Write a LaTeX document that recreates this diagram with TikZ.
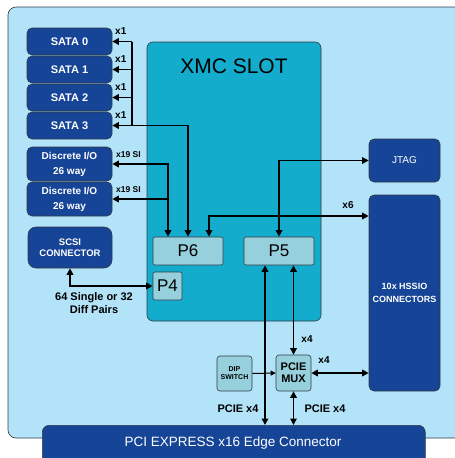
\documentclass[tikz,border=0pt]{standalone}
\usepackage{fontspec}
\setmainfont{Liberation Sans}
\usetikzlibrary{arrows.meta}
\definecolor{board}{RGB}{178,227,248}
\definecolor{slot}{RGB}{20,172,204}
\definecolor{darkblue}{RGB}{22,68,150}
\definecolor{pbox}{RGB}{150,208,220}
\definecolor{edgeline}{RGB}{50,60,70}
\begin{document}
\begin{tikzpicture}[x=1pt,y=-1pt,
  darkbox/.style={draw=edgeline, line width=0.6pt, fill=darkblue, rounded corners=5pt, text=white, inner sep=0pt, align=center},
  pconn/.style={draw=edgeline, line width=0.6pt, fill=pbox, rounded corners=2pt, inner sep=0pt, align=center},
  link/.style={line width=1.9pt, draw=black},
  thin link/.style={line width=1pt, draw=black},
  tipA/.tip={Triangle[length=6.5pt,width=6.5pt]},
  tipB/.tip={Triangle[length=5pt,width=5pt]},
  lbl/.style={inner sep=0pt, font=\bfseries\fontsize{10}{12}\selectfont},
]
\useasboundingbox (0,0) rectangle (455,458);
% board
\draw[fill=board, draw=edgeline, line width=0.6pt, rounded corners=8pt] (8,7) rectangle (470,438);
% XMC slot
\draw[fill=slot, draw=edgeline, line width=0.6pt, rounded corners=6pt] (147,42) rectangle (321,321);
\node[font=\fontsize{21}{24}\selectfont] (xmc) at (234,66) {XMC SLOT};
% edge connector
\node[darkbox, rounded corners=7pt, minimum width=383pt, minimum height=50pt, anchor=north west] (edge) at (42,425) {};
\node[text=white, font=\fontsize{13.5}{15}\selectfont] (edgetxt) at (233,443) {PCI EXPRESS x16 Edge Connector};

% SATA boxes
\foreach \n/\y in {0/41.5,1/69.5,2/97.5,3/125.5}{
  \node[darkbox, font=\bfseries\fontsize{11}{12}\selectfont, minimum width=85pt, minimum height=27pt] (sata\n) at (69.5,\y) {SATA \n};
}
\node[darkbox, font=\bfseries\fontsize{10}{15}\selectfont, minimum width=85pt, minimum height=34pt] (dio1) at (69.5,164) {Discrete I/O\\26 way};
\node[darkbox, font=\bfseries\fontsize{10}{15}\selectfont, minimum width=85pt, minimum height=34pt] (dio2) at (69.5,199) {Discrete I/O\\26 way};
\node[darkbox, rounded corners=8pt, font=\bfseries\fontsize{9.5}{11}\selectfont, minimum width=84pt, minimum height=41pt] (scsi) at (70,247.5) {SCSI\\CONNECTOR};

% P connectors
\node[pconn, font=\fontsize{17}{18}\selectfont, minimum width=70pt, minimum height=28pt] (p6) at (188,251) {P6};
\node[pconn, font=\fontsize{17}{18}\selectfont, minimum width=70pt, minimum height=28pt] (p5) at (279,251) {P5};
\node[pconn, font=\fontsize{17}{18}\selectfont, minimum width=29pt, minimum height=28pt] (p4) at (167.5,286) {P4};

% right side
\node[darkbox, font=\fontsize{10}{12}\selectfont, minimum width=71pt, minimum height=43pt] (jtag) at (404.5,160.5) {JTAG};
\node[darkbox, font=\bfseries\fontsize{9}{13}\selectfont, minimum width=71pt, minimum height=196pt] (hssio) at (404.5,293) {10x HSSIO\\CONNECTORS};

% DIP and MUX
\node[pconn, rounded corners=3pt, font=\bfseries\fontsize{7}{8}\selectfont, minimum width=35pt, minimum height=35pt] (dip) at (234.5,373.5) {DIP\\SWITCH};
\node[pconn, rounded corners=3pt, font=\bfseries\fontsize{11}{12}\selectfont, minimum width=35pt, minimum height=36pt] (mux) at (293.5,373) {PCIE\\MUX};

% helper coordinates
\coordinate (bus) at (132,0);
\coordinate (dcol) at (168,0);
\coordinate (x6col) at (209,0);
\coordinate (x6row) at (0,216);
\coordinate (lcol) at (265,0);

% SATA connections
\draw[link,-tipA] (bus |- sata0.east) -- (sata0.east);
\draw[link] (bus |- sata0.east) -- (bus |- sata3.east);
\draw[link,-tipA] (bus |- sata1.east) -- (sata1.east);
\draw[link,-tipA] (bus |- sata2.east) -- (sata2.east);
\draw[link,tipA-tipA] (sata3.east) -| (p6.north);
% Discrete I/O
\draw[link,tipA-tipA] (dio1.east) -| (dcol |- p6.north);
\draw[link,-tipA] (dcol |- dio2.east) -- (dio2.east);
% x6 to HSSIO
\draw[link,tipA-tipA] (hssio.west |- x6row) -| (x6col |- p6.north);
% JTAG
\draw[link,tipA-tipA] (p5.north) |- (jtag.west);
% P5 down
\draw[link,tipA-tipA] (lcol |- p5.south) -- (lcol |- edge.north);
\draw[link,tipA-tipA] (mux.north |- p5.south) -- (mux.north);
% MUX
\draw[link,tipA-tipA] (mux.south) -- (mux.south |- edge.north);
\draw[link,tipA-tipA] (mux.east) -- (hssio.west |- mux.east);
\draw[thin link,-tipB] (dip.east) -- (mux.west);
% SCSI
\draw[link,tipA-tipA] (scsi.south) |- (p4.west);

% labels
\foreach \y/\k in {31/a,59/b,87/c,115/d}{
  \node[lbl, anchor=west] (lx1\k) at (115,\y) {x1};
}
\node[lbl, font=\bfseries\fontsize{8.5}{10}\selectfont, anchor=west] (lsi1) at (116,155) {x19 SI};
\node[lbl, font=\bfseries\fontsize{8.5}{10}\selectfont, anchor=west] (lsi2) at (116,190) {x19 SI};
\node[lbl] (lx6) at (348,205) {x6};
\node[lbl] (lx4a) at (307,339) {x4};
\node[lbl] (lx4b) at (324,360) {x4};
\node[lbl, font=\bfseries\fontsize{11}{12}\selectfont] (lpa) at (238,409) {PCIE x4};
\node[lbl, font=\bfseries\fontsize{11}{12}\selectfont] (lpb) at (325,409) {PCIE x4};
\node[lbl, align=center, font=\bfseries\fontsize{11}{13}\selectfont] (lscsi) at (94,303.5) {64 Single or 32\\Diff Pairs};
\end{tikzpicture}
\end{document}
